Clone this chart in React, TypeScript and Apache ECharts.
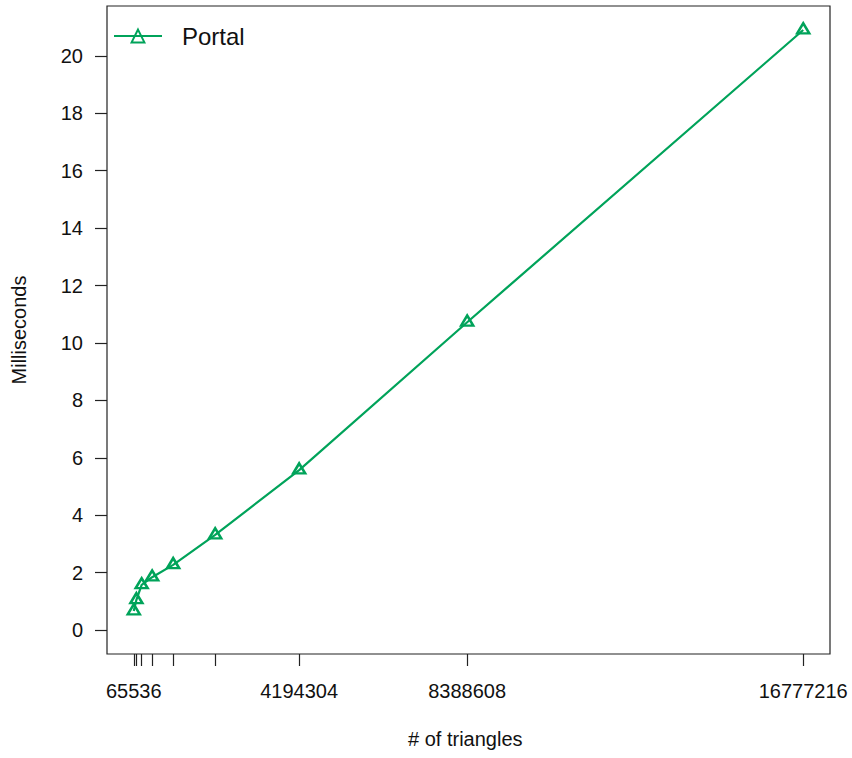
import React, { useEffect, useRef } from "react";
import * as echarts from "echarts";

const triangles = [65536, 131072, 262144, 524288, 1048576, 2097152, 4194304, 8388608, 16777216];
const portalMs = [0.66, 1.05, 1.57, 1.84, 2.27, 3.31, 5.57, 10.72, 20.9];
const xLabelValues = [65536, 4194304, 8388608, 16777216];
const yTickValues = [0, 2, 4, 6, 8, 10, 12, 14, 16, 18, 20];
const seriesName = "Portal";
const xTitle = "# of triangles";
const yTitle = "Milliseconds";

const GREEN = "#00A35A";
const FONT = "'Liberation Sans', Arial, Helvetica, sans-serif";

export default function App() {
  const ref = useRef<HTMLDivElement>(null);
  useEffect(() => {
    if (!ref.current) return;
    const chart = echarts.init(ref.current, undefined, { renderer: "svg" });
    const xMinD = Math.min(...triangles);
    const xMaxD = Math.max(...triangles);
    const xr = xMaxD - xMinD;
    const yMinD = 0;
    const yMaxD = Math.max(...portalMs);
    const yr = yMaxD - yMinD;
    const data = triangles.map((x, i) => [x, portalMs[i]]);
    chart.setOption({
      animation: false,
      backgroundColor: "#ffffff",
      textStyle: { fontFamily: FONT },
      grid: {
        left: 107,
        top: 6,
        right: 22,
        bottom: 104,
        show: true,
        borderColor: "#222",
        borderWidth: 1.2,
        backgroundColor: "transparent",
      },
      legend: {
        show: true,
        left: 113,
        top: 24,
        padding: 0,
        itemWidth: 48,
        itemHeight: 16,
        textStyle: { fontSize: 24, color: "#111", fontFamily: FONT, padding: [0, 0, 0, 15] },
        data: [seriesName],
      },
      xAxis: {
        type: "value",
        min: xMinD - 0.04 * xr,
        max: xMaxD + 0.04 * xr,
        axisLine: { show: false, onZero: false },
        splitLine: { show: false },
        axisTick: {
          show: true,
          inside: false,
          length: 12,
          customValues: triangles,
          lineStyle: { color: "#222", width: 1.2 },
        },
        axisLabel: {
          customValues: xLabelValues,
          formatter: (v: number) => String(v),
          fontSize: 20,
          color: "#111",
          margin: 27,
          fontFamily: FONT,
        },
      },
      yAxis: {
        type: "value",
        min: yMinD - 0.04 * yr,
        max: yMaxD + 0.04 * yr,
        axisLine: { show: false, onZero: false },
        splitLine: { show: false },
        axisTick: {
          show: true,
          inside: false,
          length: 12,
          customValues: yTickValues,
          lineStyle: { color: "#222", width: 1.2 },
        },
        axisLabel: {
          customValues: yTickValues,
          fontSize: 20,
          color: "#111",
          margin: 24,
          fontFamily: FONT,
        },
      },
      graphic: [
        {
          type: "text",
          left: 468 - 60,
          top: 729,
          style: { text: xTitle, fontSize: 20, fill: "#111", fontFamily: FONT },
        },
        {
          type: "text",
          x: 9,
          y: 330,
          rotation: Math.PI / 2,
          style: {
            text: yTitle,
            fontSize: 20,
            fill: "#111",
            fontFamily: FONT,
            align: "center",
            verticalAlign: "top",
          },
        },
      ],
      series: [
        {
          name: seriesName,
          type: "line",
          data,
          symbol: "triangle",
          symbolSize: [12, 10],
          symbolOffset: [0, -1.7],
          itemStyle: { color: "transparent", borderColor: GREEN, borderWidth: 2.5 },
          lineStyle: { color: GREEN, width: 2.2 },
          color: GREEN,
          z: 3,
        },
      ],
    });
    return () => chart.dispose();
  }, []);
  return (
    <div
      ref={ref}
      style={{ position: "fixed", left: 0, top: 0, width: 852, height: 758 }}
    />
  );
}
